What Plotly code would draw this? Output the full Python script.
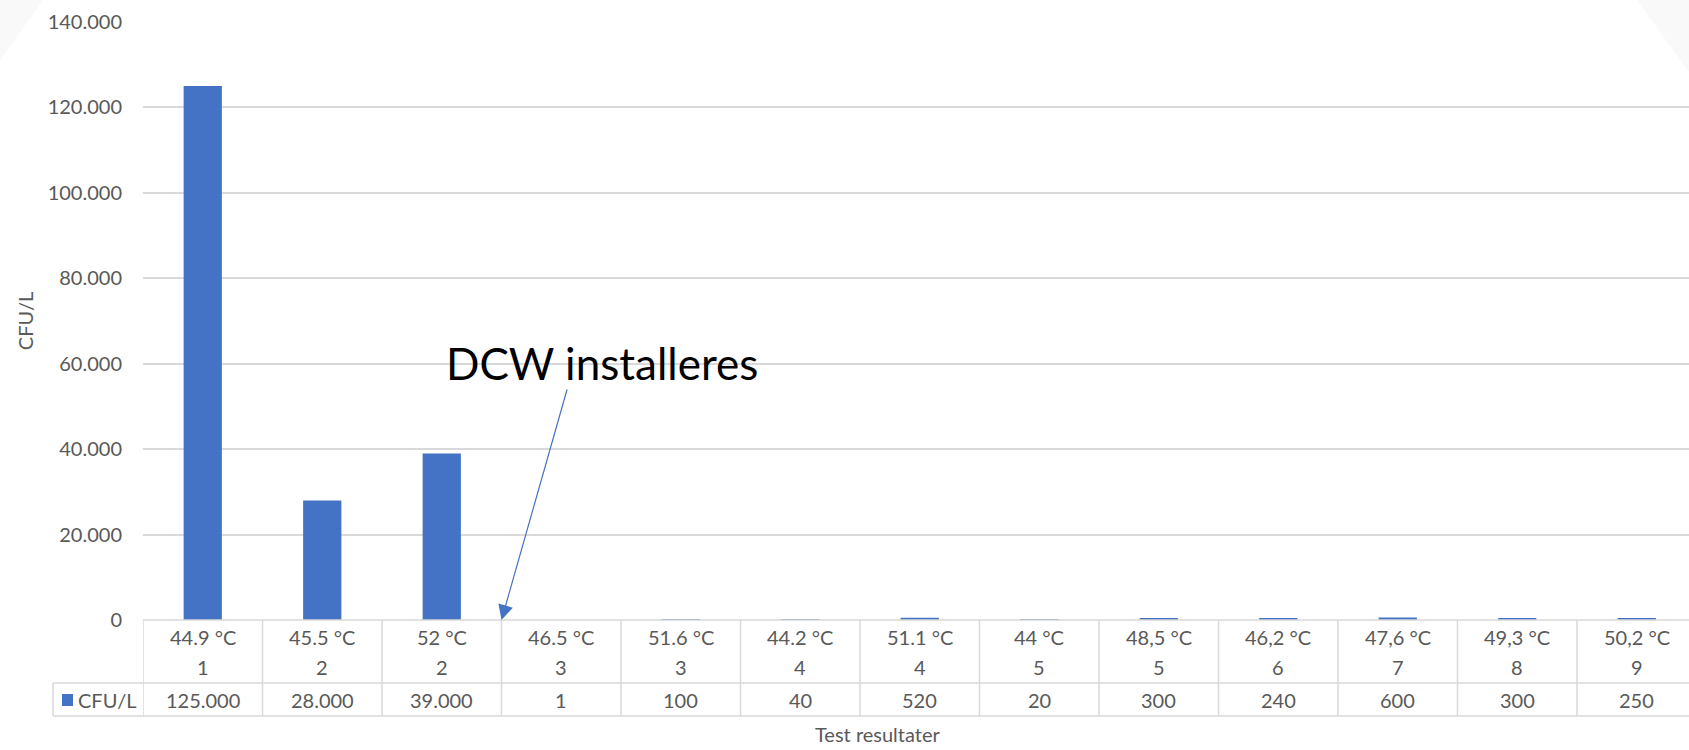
import plotly.graph_objects as go

temps = ["44.9 °C", "45.5 °C", "52 °C", "46.5 °C", "51.6 °C", "44.2 °C", "51.1 °C",
         "44 °C", "48,5 °C", "46,2 °C", "47,6 °C", "49,3 °C", "50,2 °C"]
tests = ["1", "2", "2", "3", "3", "4", "4", "5", "5", "6", "7", "8", "9"]
cfu = [125000, 28000, 39000, 1, 100, 40, 520, 20, 300, 240, 600, 300, 250]
value_labels = ["125.000", "28.000", "39.000", "1", "100", "40", "520", "20",
                "300", "240", "600", "300", "250"]
series_name = "CFU/L"
x_title = "Test resultater"
y_title = "CFU/L"
note_text = "DCW installeres"

W, H = 1689, 750
L, R, T, B = 143, 0, 22, 130
PW, PH = W - L - R, H - T - B
CAT_W = 119.5
FONT = "Lato"
GREY = "#595959"
LINE = "#d9d9d9"
BLUE = "#4472C4"


def px(xp):
    return (xp - L) / PW


def py(yp):
    return (H - B - yp) / PH


xs = list(range(len(cfu)))
xmax = -0.5 + PW / CAT_W

fig = go.Figure()
fig.add_trace(go.Bar(x=xs, y=cfu, name=series_name, marker_color=BLUE,
                     marker_line_width=0, width=0.32, showlegend=False))

shapes = []
# background corner triangles
shapes.append(dict(type="path", xref="paper", yref="paper", layer="below",
                   path=f"M {px(0)},{py(0)} L {px(43)},{py(0)} L {px(0)},{py(60)} Z",
                   fillcolor="#f9f9f9", line_width=0))
shapes.append(dict(type="path", xref="paper", yref="paper", layer="below",
                   path=f"M {px(1637)},{py(0)} L {px(1689)},{py(0)} L {px(1689)},{py(72)} Z",
                   fillcolor="#f9f9f9", line_width=0))

y_top, y_mid, y_bot = py(620), py(683), py(716)
# horizontal table lines
shapes.append(dict(type="line", xref="paper", yref="paper", x0=0, x1=1, y0=y_top, y1=y_top,
                   line=dict(color=LINE, width=1.5)))
shapes.append(dict(type="line", xref="paper", yref="paper", x0=px(53), x1=1, y0=y_mid, y1=y_mid,
                   line=dict(color=LINE, width=1.5)))
shapes.append(dict(type="line", xref="paper", yref="paper", x0=px(53), x1=1, y0=y_bot, y1=y_bot,
                   line=dict(color=LINE, width=1.5)))
# legend cell left border
shapes.append(dict(type="line", xref="paper", yref="paper", x0=px(53), x1=px(53), y0=y_mid, y1=y_bot,
                   line=dict(color=LINE, width=1.5)))
# vertical category borders
for k in range(len(cfu) + 1):
    shapes.append(dict(type="line", xref="x", yref="paper", x0=k - 0.5, x1=k - 0.5,
                       y0=y_top, y1=y_bot, line=dict(color=LINE, width=1.5)))
# legend key square
shapes.append(dict(type="rect", xref="paper", yref="paper", x0=px(62), x1=px(73),
                   y0=py(706), y1=py(694), fillcolor=BLUE, line_width=0))

tfont = dict(size=20, color=GREY, family=FONT)
annotations = []
for i in xs:
    annotations.append(dict(x=i, xref="x", y=py(637), yref="paper", text=temps[i],
                            xanchor="center", yanchor="middle", showarrow=False, font=tfont))
    annotations.append(dict(x=i, xref="x", y=py(667), yref="paper", text=tests[i],
                            xanchor="center", yanchor="middle", showarrow=False, font=tfont))
    annotations.append(dict(x=i, xref="x", y=py(700), yref="paper", text=value_labels[i],
                            xanchor="center", yanchor="middle", showarrow=False, font=tfont))
annotations.append(dict(x=px(76), xref="paper", y=py(700), yref="paper", text=series_name,
                        xanchor="left", yanchor="middle", showarrow=False, font=tfont))
annotations.append(dict(x=px(878), xref="paper", y=py(734), yref="paper", text=x_title,
                        xanchor="center", yanchor="middle", showarrow=False, font=tfont))
# arrow
annotations.append(dict(x=2.5, xref="x", y=0, yref="y", text="", showarrow=True,
                        ax=66, ay=-232, arrowhead=2, arrowsize=2.5, arrowwidth=1.2,
                        arrowcolor=BLUE, standoff=0))
annotations.append(dict(x=px(444), xref="paper", y=py(363), yref="paper", text=note_text,
                        xanchor="left", yanchor="middle", showarrow=False,
                        font=dict(size=44, color="#000000", family=FONT)))

fig.update_layout(
    width=W, height=H,
    margin=dict(l=L, r=R, t=T, b=B, autoexpand=False),
    paper_bgcolor="white", plot_bgcolor="white",
    separators=",.",
    font=dict(family=FONT, color=GREY, size=20),
    bargap=0.68,
    xaxis=dict(range=[-0.5, xmax], showticklabels=False, showgrid=False, zeroline=False,
               showline=False, ticks=""),
    yaxis=dict(range=[0, 140000], dtick=20000, tickformat=",d", showgrid=True,
               gridcolor=LINE, gridwidth=1.5, zeroline=False, showline=False, ticks="",
               ticklabelstandoff=20, tickfont=tfont,
               title=dict(text=y_title, font=tfont, standoff=8)),
    shapes=shapes,
    annotations=annotations,
)

fig.write_html(
    "out.html",
    config={"displayModeBar": False},
    post_script="document.body.style.margin='0';document.body.style.overflow='hidden';",
)
